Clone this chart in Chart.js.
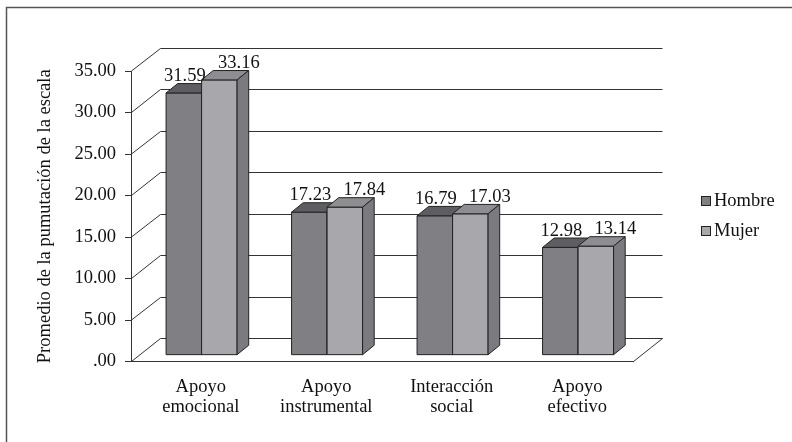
<!DOCTYPE html>
<html>
<head>
<meta charset="utf-8">
<script src="https://cdn.jsdelivr.net/npm/chart.js@4.4.1/dist/chart.umd.min.js"></script>
<style>
  html, body { margin: 0; padding: 0; background: #fff; }
  canvas { display: block; }
</style>
</head>
<body>
<canvas id="c" width="792" height="442"></canvas>
<script>
// ---- data ----
const categories = [['Apoyo', 'emocional'], ['Apoyo', 'instrumental'], ['Interacción', 'social'], ['Apoyo', 'efectivo']];
const seriesNames = ['Hombre', 'Mujer'];
const hombre = [31.59, 17.23, 16.79, 12.98];
const mujer = [33.16, 17.84, 17.03, 13.14];
const yTicks = [0, 5, 10, 15, 20, 25, 30, 35];
const yTitle = 'Promedio de la pumutación de la escala';

// ---- styling ----
const FONT = '"Liberation Serif", "Times New Roman", serif';
const FSIZE = 18.5;
const TEXT = '#111';
const LINE = '#333';
const faces = [
  { front: '#808084', top: '#5e5e62', side: '#6a6a6e' },
  { front: '#a8a8ac', top: '#8e8e92', side: '#7b7b7f' }
];
const DEPTH = { dx: 29, dy: 23.5 };   // front plane to back wall
const BAR_Z = [0.27, 0.67];           // bar front / back depth
const LABEL_SHIFT = [1, 19.5];        // value label offset per series

function poly(ctx, pts, fill) {
  ctx.beginPath();
  ctx.moveTo(pts[0][0], pts[0][1]);
  for (let k = 1; k < pts.length; k++) ctx.lineTo(pts[k][0], pts[k][1]);
  ctx.closePath();
  ctx.fillStyle = fill;
  ctx.fill();
  ctx.stroke();
}

// 3D walls, boxes, value labels, legend and frame
const box3d = {
  id: 'box3d',
  beforeDraw(chart) {
    const ctx = chart.ctx;
    ctx.save();
    ctx.strokeStyle = '#555';
    ctx.lineWidth = 1.5;
    ctx.strokeRect(6.5, 7.5, 900, 900);
    ctx.restore();
  },
  beforeDatasetDraw() { return false; },
  beforeDatasetsDraw(chart) {
    const { ctx, chartArea: a, scales: { y } } = chart;
    const L = Math.round(a.left) + 0.5, R = Math.round(a.right) + 0.5;
    ctx.save();
    ctx.strokeStyle = LINE;
    ctx.lineWidth = 1;
    ctx.beginPath();
    yTicks.forEach(v => {
      const py = y.getPixelForValue(v);
      const by = Math.round(py - DEPTH.dy) + 0.5;
      ctx.moveTo(L, py);
      ctx.lineTo(L + DEPTH.dx, by);
      ctx.lineTo(R + DEPTH.dx, by);
    });
    ctx.moveTo(R, a.bottom);
    ctx.lineTo(R + DEPTH.dx, Math.round(a.bottom - DEPTH.dy) + 0.5);
    ctx.stroke();
    ctx.restore();
  },
  afterDatasetsDraw(chart) {
    const ctx = chart.ctx;
    const fx = BAR_Z[0] * DEPTH.dx, fy = BAR_Z[0] * DEPTH.dy;
    const bx = (BAR_Z[1] - BAR_Z[0]) * DEPTH.dx, by = (BAR_Z[1] - BAR_Z[0]) * DEPTH.dy;
    const labels = [];
    ctx.save();
    ctx.strokeStyle = '#222';
    ctx.lineWidth = 1;
    ctx.lineJoin = 'round';
    for (let i = 0; i < categories.length; i++) {
      chart.data.datasets.forEach((ds, di) => {
        const meta = chart.getDatasetMeta(di);
        if (meta.hidden) return;
        const el = meta.data[i];
        const p = el.getProps(['x', 'y', 'base', 'width'], true);
        const c = faces[di];
        const L = p.x - p.width / 2 + fx, R = p.x + p.width / 2 + fx;
        const T = p.y - fy, B = p.base - fy;
        poly(ctx, [[L, T], [R, T], [R, B], [L, B]], c.front);
        poly(ctx, [[L, T], [L + bx, T - by], [R + bx, T - by], [R, T]], c.top);
        poly(ctx, [[R, T], [R + bx, T - by], [R + bx, B - by], [R, B]], c.side);
        labels.push({ text: ds.data[i].toFixed(2), x: (L + R) / 2 + LABEL_SHIFT[di], y: T - by - 2.5 });
      });
    }
    ctx.fillStyle = TEXT;
    ctx.font = FSIZE + 'px ' + FONT;
    ctx.textAlign = 'center';
    ctx.textBaseline = 'alphabetic';
    labels.forEach(l => ctx.fillText(l.text, l.x, l.y));
    ctx.restore();
  },
  afterDraw(chart) {
    const ctx = chart.ctx;
    ctx.save();
    ctx.font = FSIZE + 'px ' + FONT;
    ctx.textBaseline = 'middle';
    ctx.textAlign = 'left';
    ctx.strokeStyle = '#222';
    ctx.lineWidth = 1;
    chart.data.datasets.forEach((ds, di) => {
      const cy = 201 + di * 30;
      ctx.fillStyle = faces[di].front;
      ctx.fillRect(702, cy - 4, 8, 8);
      ctx.strokeRect(701.5, cy - 4.5, 9, 9);
      ctx.fillStyle = TEXT;
      ctx.fillText(ds.label, 714, cy + 0.5);
    });
    ctx.restore();
  }
};

Chart.defaults.font.family = FONT;
Chart.defaults.font.size = FSIZE;
Chart.defaults.color = TEXT;

new Chart(document.getElementById('c'), {
  type: 'bar',
  data: {
    labels: categories,
    datasets: [
      { label: seriesNames[0], data: hombre, backgroundColor: faces[0].front },
      { label: seriesNames[1], data: mujer, backgroundColor: faces[1].front }
    ]
  },
  options: {
    responsive: false,
    animation: false,
    devicePixelRatio: 1,
    categoryPercentage: 0.566,
    barPercentage: 1,
    layout: { padding: { left: 24, top: 71, right: 159, bottom: 0 } },
    plugins: { legend: { display: false }, tooltip: { enabled: false } },
    scales: {
      x: {
        grid: { display: false, drawTicks: false },
        border: { display: true, color: LINE, width: 1 },
        ticks: { padding: 16, labelOffset: 7, maxRotation: 0, autoSkip: false,
                 font: { size: FSIZE, lineHeight: '20px' } },
        afterFit(scale) { scale.height = 80.5; }
      },
      y: {
        min: 0, max: 35,
        afterBuildTicks(scale) { scale.ticks = yTicks.map(v => ({ value: v })); },
        grid: { display: true, drawOnChartArea: false, drawTicks: true, tickLength: 6, color: LINE },
        border: { display: true, color: LINE, width: 1 },
        ticks: { padding: 9, callback: v => v === 0 ? '.00' : Number(v).toFixed(2) },
        title: { display: true, text: yTitle, padding: { top: 10, bottom: 0 }, font: { size: FSIZE } },
        afterFit(scale) { scale.width = 107; }
      }
    }
  },
  plugins: [box3d]
});
</script>
</body>
</html>
